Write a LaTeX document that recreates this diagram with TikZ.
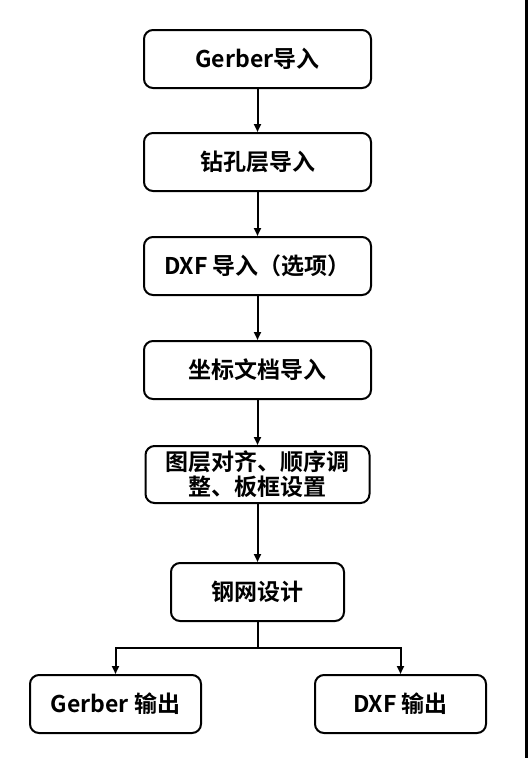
\documentclass[tikz,border=0pt]{standalone}
\usepackage{fontspec}
\newfontfamily\cjk{Noto Sans CJK SC Bold}
\usetikzlibrary{arrows.meta,positioning}

\begin{document}
\begin{tikzpicture}[x=1pt,y=1pt,line width=2pt,
  >={Triangle[length=8pt,width=7pt]},
  stepbox/.style={rectangle,rounded corners=9pt,draw,line width=2pt,
    minimum width=227pt,minimum height=58pt,inner sep=1pt,align=center,
    font=\cjk\fontsize{23}{25}\selectfont}]
  \useasboundingbox (0,0) rectangle (528,-758);
  \fill (525,0) rectangle (528,-758);
  \node[stepbox] (gerberin) at (257.5,-59) {Gerber导入};
  \node[stepbox] (drill) [below=43pt of gerberin] {钻孔层导入};
  \node[stepbox] (dxfin) [below=44pt of drill] {DXF 导入（选项）};
  \node[stepbox] (coord) [below=44pt of dxfin] {坐标文档导入};
  \node[stepbox,minimum width=224pt,minimum height=57pt] (align) [below=45pt of coord]
    {图层对齐、顺序调\\整、板框设置};
  \node[stepbox,minimum width=173pt] (stencil) [below=58pt of align] {钢网设计};
  \node[stepbox,minimum width=171pt] (gerberout) at (115.5,-704) {Gerber 输出};
  \node[stepbox,minimum width=171pt] (dxfout) at (400.5,-704) {DXF 输出};
  \draw[->] (gerberin) -- (drill);
  \draw[->] (drill) -- (dxfin);
  \draw[->] (dxfin) -- (coord);
  \draw[->] (coord) -- (align);
  \draw[->] (align) -- (stencil);
  \coordinate (split) at ([yshift=-26pt]stencil.south);
  \draw (stencil) -- (split);
  \draw[->] (split) -| (gerberout);
  \draw[->] (split) -| (dxfout);
\end{tikzpicture}
\end{document}
